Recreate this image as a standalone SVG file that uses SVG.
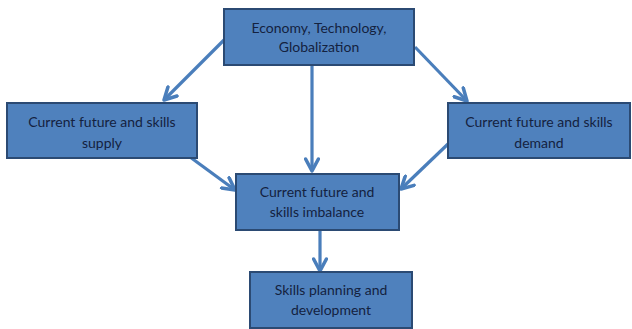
<svg xmlns="http://www.w3.org/2000/svg" width="632" height="329" viewBox="0 0 632 329">
  <style>
    .box { fill: #4f81bd; stroke: #2b4a73; stroke-width: 2; }
    .label { font-family: Lato, "Open Sans", sans-serif; font-size: 14px; fill: #14223f; text-anchor: middle; }
    .link { fill: none; stroke: #4a7ebb; stroke-width: 3.2; marker-end: url(#chevron); }
  </style>
  <defs>
    <marker id="chevron" viewBox="0 0 10 10" refX="8.5" refY="5" markerWidth="5" markerHeight="5" orient="auto" markerUnits="strokeWidth">
      <polyline points="1,1 8.5,5 1,9" fill="none" stroke="#4a7ebb" stroke-width="2.2" stroke-linecap="round" stroke-linejoin="round"/>
    </marker>
  </defs>
  <rect width="632" height="329" fill="#ffffff"/>

  <g id="connectors">
    <line class="link" x1="224" y1="40" x2="164" y2="100"/>
    <line class="link" x1="415" y1="47" x2="467" y2="101"/>
    <line class="link" x1="312" y1="66" x2="312" y2="171"/>
    <line class="link" x1="190" y1="157" x2="235" y2="190"/>
    <line class="link" x1="448" y1="144" x2="401" y2="189"/>
    <line class="link" x1="320" y1="231" x2="320" y2="271"/>
  </g>

  <g id="drivers">
    <rect class="box" x="224" y="9" width="190" height="56"/>
    <text class="label" x="319" y="33">Economy, Technology,</text>
    <text class="label" x="319" y="52">Globalization</text>
  </g>

  <g id="supply">
    <rect class="box" x="7" y="103" width="190" height="55"/>
    <text class="label" x="102" y="127">Current future and skills</text>
    <text class="label" x="102" y="148">supply</text>
  </g>

  <g id="demand">
    <rect class="box" x="448" y="103" width="182" height="55"/>
    <text class="label" x="539" y="127">Current future and skills</text>
    <text class="label" x="539" y="148">demand</text>
  </g>

  <g id="imbalance">
    <rect class="box" x="236" y="174" width="163" height="56"/>
    <text class="label" x="317" y="197">Current future and</text>
    <text class="label" x="317" y="217">skills imbalance</text>
  </g>

  <g id="planning">
    <rect class="box" x="250" y="272" width="162" height="56"/>
    <text class="label" x="331" y="295">Skills planning and</text>
    <text class="label" x="331" y="315">development</text>
  </g>
</svg>
